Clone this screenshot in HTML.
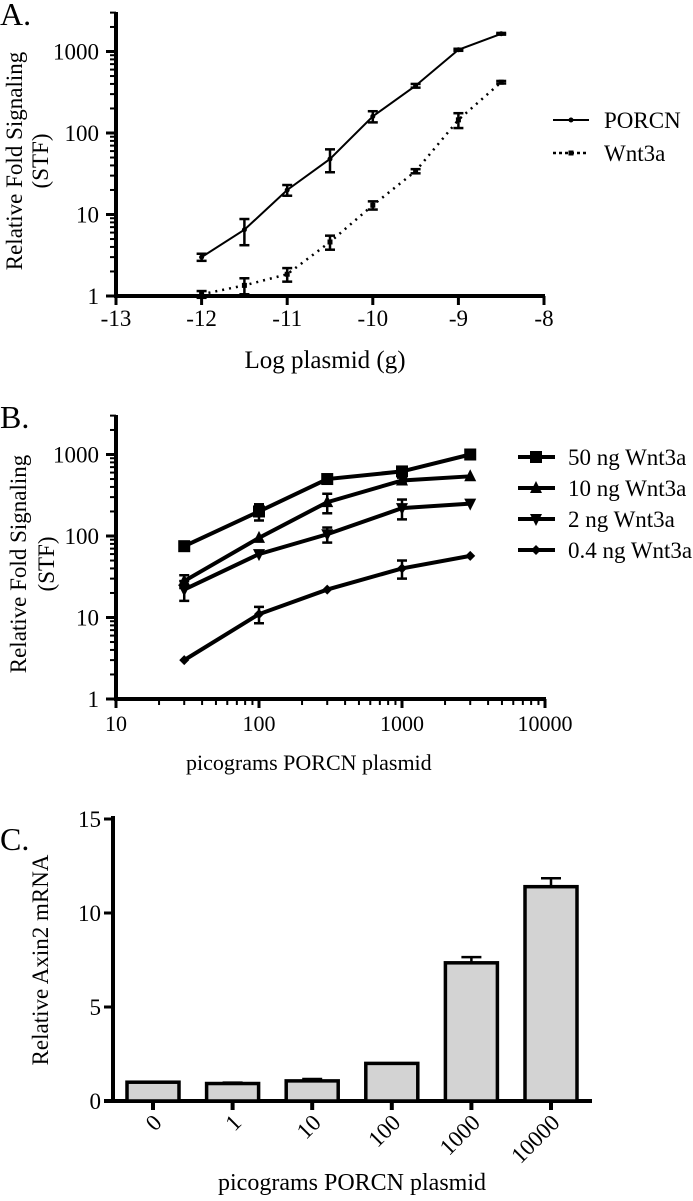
<!DOCTYPE html>
<html><head><meta charset="utf-8"><style>
body{margin:0;background:#fff;}
svg{display:block;font-family:"Liberation Serif",serif;}
</style></head><body>
<svg id="s" width="693" height="1201" viewBox="0 0 693 1201"></svg>
<script>
// Panel A data
const aX=[-12,-11.5,-11,-10.5,-10,-9.5,-9,-8.5];
const aPorcn=[3,6.5,20,48,160,380,1050,1650];
const aPorcnErr=[0.3,2.3,3,15,25,20,30,40];
const aWnt=[1.05,1.35,1.85,4.6,13,34,145,420];
const aWntErr=[0.1,0.3,0.35,0.9,1.5,2,30,15];
const aXTicks=[-13,-12,-11,-10,-9,-8];
const aYTicks=[1,10,100,1000];
// Panel B data
const bX=[30,100,300,1000,3000];
const b50=[75,200,500,620,1000];
const b50Err=[0,45,0,60,0];
const b10=[28,95,260,480,540];
const b10Err=[5,0,70,40,0];
const b2=[22,60,105,220,250];
const b2Err=[6,0,22,60,0];
const b04=[3,11,22,40,57];
const b04Err=[0,2.5,0,10,0];
const bXTicks=[10,100,1000,10000];
const bYTicks=[1,10,100,1000];
const bLabels=["50 ng Wnt3a","10 ng Wnt3a","2 ng Wnt3a","0.4 ng Wnt3a"];
// Panel C data
const cCats=["0","1","10","100","1000","10000"];
const cVals=[1,0.93,1.07,2,7.35,11.4];
const cErr=[0,0.05,0.1,0,0.3,0.45];
const cYTicks=[0,5,10,15];

const svg=document.getElementById('s');
const NS="http://www.w3.org/2000/svg";
function el(tag,attrs,parent,name,text){const e=document.createElementNS(NS,tag);for(const k in attrs)e.setAttribute(k,attrs[k]);


if(text!==undefined)e.textContent=text;(parent||svg).appendChild(e);return e;}
function line(x1,y1,x2,y2,w,name,dash){const a={x1,y1,x2,y2,stroke:"#000","stroke-width":w};if(dash)a["stroke-dasharray"]=dash;return el('line',a,svg,name);}
function txt(x,y,s,size,name,anchor,extra){const a={x,y,"font-size":size,"text-anchor":anchor||"middle"};Object.assign(a,extra||{});return el('text',a,svg,name,s);}
function vtxt(x,y,s,size,name){return el('text',{x:0,y:0,"font-size":size,"text-anchor":"middle",transform:`translate(${x},${y}) rotate(-90)`},svg,name,s);}

// ---------- Panel A ----------
const axA=v=>116+(v+13)*85.6;
const ayA=v=>296-Math.log10(v)*81.5;
txt(0,25,"A.",32,"panel-a-label","start");
line(116,12,116,298,4,"a-y-axis");
line(114,296,545,296,4,"a-x-axis");
for(let d=0;d<4;d++)for(let m=1;m<=9;m++){const v=Math.pow(10,d)*m;const y=ayA(v);if(y<12)continue;line(m==1?106:110,y,116,y,m==1?3:2,"a-y-tick");}
aYTicks.forEach(v=>txt(99,ayA(v)+8,String(v),23,"a-y-tick-label","end"));
aXTicks.forEach(v=>{line(axA(v),296,axA(v),305,3,"a-x-tick");txt(axA(v),326,String(v),23,"a-x-tick-label");});
txt(325,368,"Log plasmid (g)",25,"a-x-axis-title");
vtxt(22,161,"Relative Fold Signaling",23,"a-y-axis-title");
vtxt(48,161,"(STF)",23,"a-y-axis-title-unit");
function series(xs,ys,errs,fx,fy,w,dash,name,marker){
  el('polyline',{points:xs.map((x,i)=>fx(x)+","+fy(ys[i])).join(" "),fill:"none",stroke:"#000","stroke-width":w,"stroke-dasharray":dash||"none"},svg,name+"-line");
  xs.forEach((x,i)=>{const X=fx(x);if(errs[i]>0){const y1=fy(ys[i]+errs[i]),y2=fy(Math.max(ys[i]-errs[i],0.0001));line(X,y1,X,y2,2.5,name+"-error-bar");line(X-5,y1,X+5,y1,2.5,name+"-error-cap");line(X-5,y2,X+5,y2,2.5,name+"-error-cap");}
  marker(X,fy(ys[i]));});
}
const dot=(x,y)=>el('circle',{cx:x,cy:y,r:2.5,fill:"#000"},svg,"a-porcn-point");
const sq=(x,y)=>el('rect',{x:x-2.5,y:y-2.5,width:5,height:5,fill:"#000"},svg,"a-wnt3a-point");
series(aX,aPorcn,aPorcnErr,axA,ayA,2,null,"a-porcn",dot);
series(aX,aWnt,aWntErr,axA,ayA,2.5,"2 5","a-wnt3a",sq);
line(553,120,589,120,2,"legend-porcn-line");dot(571,120);
txt(604,128,"PORCN",23,"legend-porcn-label","start");
line(553,153,589,153,2.5,"legend-wnt3a-line","3 3");sq(571,153);
txt(604,161,"Wnt3a",23,"legend-wnt3a-label","start");

// ---------- Panel B ----------
const axB=v=>116+Math.log10(v/10)*143;
const ayB=v=>699-Math.log10(v)*81.5;
txt(0,428,"B.",32,"panel-b-label","start");
line(116,415,116,701,4,"b-y-axis");
line(114,699,546,699,4,"b-x-axis");
for(let d=0;d<4;d++)for(let m=1;m<=9;m++){const v=Math.pow(10,d)*m;const y=ayB(v);if(y<415)continue;line(m==1?106:110,y,116,y,m==1?3:2,"b-y-tick");}
for(let d=0;d<3;d++)for(let m=1;m<=10;m++){const v=10*Math.pow(10,d)*m;const x=axB(v);line(x,699,x,m==1||m==10?708:705,m==1||m==10?3:2,"b-x-tick");}
bYTicks.forEach(v=>txt(99,ayB(v)+8,String(v),23,"b-y-tick-label","end"));
bXTicks.forEach(v=>txt(axB(v),731,String(v),22,"b-x-tick-label"));
txt(186,770,"picograms PORCN plasmid",22,"b-x-axis-title","start");
vtxt(26,564,"Relative Fold Signaling",23,"b-y-axis-title");
vtxt(54,564,"(STF)",23,"b-y-axis-title-unit");
const mSq=(x,y)=>el('rect',{x:x-6,y:y-6,width:12,height:12,fill:"#000"},svg,"b-50ng-point");
const mUp=(x,y)=>el('polygon',{points:`${x},${y-7} ${x-6},${y+5} ${x+6},${y+5}`,fill:"#000"},svg,"b-10ng-point");
const mDn=(x,y)=>el('polygon',{points:`${x},${y+7} ${x-6},${y-5} ${x+6},${y-5}`,fill:"#000"},svg,"b-2ng-point");
const mDi=(x,y)=>el('polygon',{points:`${x},${y-5} ${x+5},${y} ${x},${y+5} ${x-5},${y}`,fill:"#000"},svg,"b-04ng-point");
series(bX,b50,b50Err,axB,ayB,4,null,"b-50ng",mSq);
series(bX,b10,b10Err,axB,ayB,4,null,"b-10ng",mUp);
series(bX,b2,b2Err,axB,ayB,4,null,"b-2ng",mDn);
series(bX,b04,b04Err,axB,ayB,4,null,"b-04ng",mDi);
const mk=[mSq,mUp,mDn,mDi];
bLabels.forEach((l,i)=>{const y=457+i*31;line(518,y,555,y,4,"b-legend-line");mk[i](536,y);txt(568,y+8,l,23,"b-legend-label","start");});

// ---------- Panel C ----------
const ayC=v=>1101-v*18.8;
const bw=79.6;
const axC=i=>153+i*bw;
txt(0,850,"C.",32,"panel-c-label","start");
line(113,816,113,1103,4,"c-y-axis");
line(104,1101,592,1101,4,"c-x-axis");
cYTicks.forEach(v=>{line(104,ayC(v),113,ayC(v),3,"c-y-tick");txt(101,ayC(v)+8,String(v),23,"c-y-tick-label","end");});
vtxt(48,960,"Relative Axin2 mRNA",23,"c-y-axis-title");
cCats.forEach((c,i)=>{const x=axC(i);
  if(cErr[i]>0){const ye=ayC(cVals[i]+cErr[i]);line(x,ye,x,ayC(cVals[i]),2.5,"c-error-bar");line(x-10,ye,x+10,ye,2.5,"c-error-cap");}
  el('rect',{x:x-26,y:ayC(cVals[i]),width:52,height:ayC(0)-ayC(cVals[i]),fill:"#d3d3d3",stroke:"#000","stroke-width":3.5},svg,"c-bar-"+c);
  line(x,1101,x,1110,4,"c-x-tick");
  el('text',{x:0,y:0,"font-size":23,"text-anchor":"end",transform:`translate(${x+10},${1124}) rotate(-45)`},svg,"c-x-tick-label",c);
});
txt(352,1190,"picograms PORCN plasmid",24,"c-x-axis-title");
</script>
</body></html>
